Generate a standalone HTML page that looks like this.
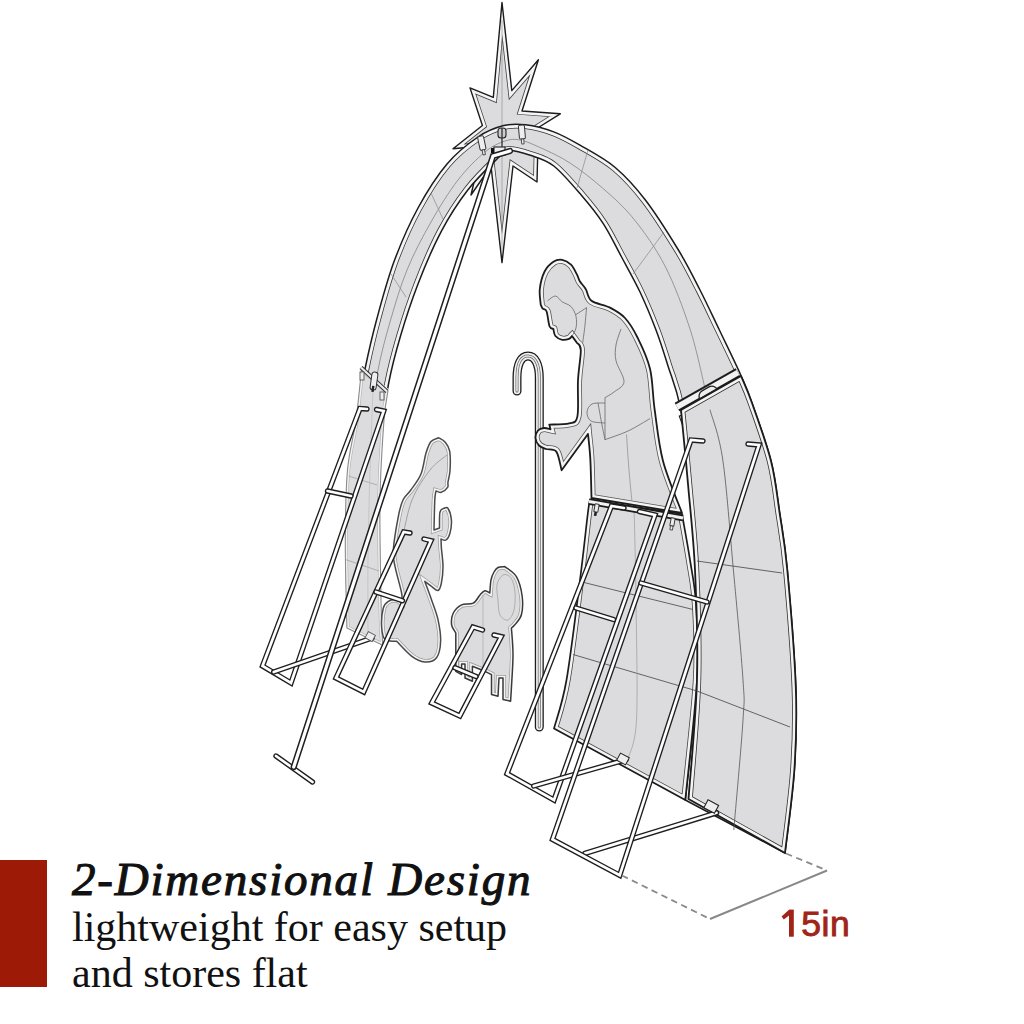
<!DOCTYPE html>
<html><head><meta charset="utf-8">
<style>
html,body{margin:0;padding:0;background:#fff;}
body{width:1024px;height:1024px;position:relative;overflow:hidden;}
svg{position:absolute;left:0;top:0;}
.bar{position:absolute;left:0;top:860px;width:46.7px;height:127px;background:#9d1a06;}
.t{position:absolute;left:72px;white-space:nowrap;font-family:"Liberation Serif",serif;color:#111;line-height:1;}
.h{top:856px;font-size:47px;font-style:italic;-webkit-text-stroke:1.1px #111;letter-spacing:1.8px;}
.l2{top:906px;font-size:42px;}
.l3{top:952px;font-size:42px;}
.dim{position:absolute;left:801.2px;top:907px;font-family:"Liberation Sans",sans-serif;font-size:35.5px;color:#a02418;-webkit-text-stroke:0.9px #a02418;line-height:1;letter-spacing:0.6px;}
</style></head><body>
<svg width="1024" height="1024" viewBox="0 0 1024 1024">
<defs><clipPath id="c1"><path d="M502,2.5 L511.8,90.6 L538.4,59.8 L522,111 L560.3,113.8 L538.4,127.5 L537,182 L513,166 L502,262.6 L491,166 L471,195 L482.4,146 L453,148.7 L482.4,125.5 L470,87.9 L493.3,97.4 Z"/></clipPath>
<clipPath id="c2"><path d="M346.9,628 C346.6,613.3 345.2,566.3 345.3,540.0 C345.4,513.7 345.7,490.0 347.5,470.0 C349.3,450.0 353.1,436.8 356.0,420.0 C358.9,403.2 361.5,385.8 365.0,369.0 C368.5,352.2 371.9,337.1 376.8,319.0 C381.7,300.9 387.5,279.1 394.4,260.6 C401.3,242.1 409.2,224.1 418.0,208.0 C426.8,191.9 437.0,175.8 447.0,164.0 C457.0,152.2 468.5,143.4 478.0,137.0 C487.5,130.6 495.8,127.6 503.8,125.6 C511.7,123.6 517.3,123.8 525.6,124.8 C533.9,125.8 544.7,128.5 553.8,131.9 C562.8,135.3 569.8,139.3 580.0,145.2 C590.2,151.1 604.3,158.3 615.2,167.5 C626.1,176.7 635.1,186.6 645.6,200.3 C656.1,214.1 669.3,235.1 678.4,250.0 C687.5,264.9 693.2,276.7 700.0,290.0 C706.8,303.3 712.6,315.9 719.4,330.0 C726.1,344.1 735.1,362.3 740.5,374.5 C745.9,386.7 746.9,388.6 752.0,403.0 C757.1,417.4 766.4,442.8 771.0,461.0 C775.6,479.2 776.8,493.8 779.5,512.0 C782.2,530.2 784.6,540.8 787.3,570.0 C790.0,599.2 794.5,654.0 795.8,687.0 C797.0,720.0 796.3,740.3 794.5,768.0 C792.7,795.7 786.6,838.8 785.0,853.0 L685.3,800 C687.4,780.0 694.5,718.3 697.8,680.0 C701.1,641.7 704.5,597.1 705.0,570.0 C705.5,542.9 704.6,544.2 700.6,517.5 C696.6,490.8 686.4,435.2 681.0,410.0 C675.6,384.8 672.2,379.3 668.0,366.0 C663.8,352.7 660.7,342.3 656.0,330.0 C651.3,317.7 645.8,304.3 640.0,292.0 C634.2,279.7 627.1,267.4 621.0,256.0 C614.9,244.6 609.9,233.8 603.4,223.8 C596.9,213.8 590.3,205.6 582.0,196.0 C573.7,186.4 562.4,172.8 553.8,166.0 C545.1,159.2 537.9,157.9 530.3,155.3 C522.7,152.7 513.9,150.0 508.4,150.6 C502.8,151.2 503.8,152.4 497.0,159.0 C490.2,165.6 476.9,178.2 467.6,190.3 C458.3,202.4 449.6,215.7 441.3,231.3 C433.0,246.9 424.8,266.4 418.0,284.0 C411.2,301.6 405.2,320.1 400.3,336.7 C395.4,353.3 391.3,369.6 388.6,383.5 C385.9,397.4 385.4,400.6 384.0,420.0 C382.6,439.4 380.5,468.5 380.0,500.0 C379.5,531.5 380.8,584.8 381.2,609.0 C381.7,633.2 382.5,639.2 382.8,645.3 Z"/></clipPath>
<clipPath id="c3"><path d="M361.5,369 C360.6,377.5 358.3,403.2 356.0,420.0 C353.7,436.8 349.3,450.0 347.5,470.0 C345.7,490.0 345.4,513.7 345.3,540.0 C345.2,566.3 346.6,613.3 346.9,628.0 L382.8,645.3 L382.8,645.3 C382.5,639.2 381.7,633.2 381.2,609.0 C380.8,584.8 379.5,531.5 380.0,500.0 C380.5,468.5 382.7,438.2 384.0,420.0 C385.3,401.8 387.3,395.8 388.0,391.0 Z"/></clipPath>
<clipPath id="c4"><path d="M590,500 C605.3,502.3 666.7,511.7 682.0,514.0 L682,514 C683.3,521.7 687.7,545.0 690.0,560.0 C692.3,575.0 694.8,584.0 696.0,604.0 C697.2,624.0 698.8,647.3 697.0,680.0 C695.2,712.7 687.2,780.0 685.3,800.0 L554,728.4 L554,728.4 C556.1,720.3 562.2,704.7 566.5,680.0 C570.8,655.3 576.4,608.0 580.0,580.0 C583.6,552.0 586.3,525.3 588.0,512.0 C589.7,498.7 589.7,502.0 590.0,500.0 Z"/></clipPath>
<clipPath id="c5"><path d="M681,410 C682.2,422.3 685.7,457.3 688.0,484.0 C690.3,510.7 693.5,537.3 695.0,570.0 C696.5,602.7 698.1,641.8 697.0,680.0 C695.9,718.2 689.9,779.2 688.5,799.0 L785,853 L785,853 C786.6,838.8 792.7,795.7 794.5,768.0 C796.3,740.3 797.0,720.0 795.8,687.0 C794.5,654.0 790.0,599.2 787.3,570.0 C784.6,540.8 782.2,530.2 779.5,512.0 C776.8,493.8 775.6,479.2 771.0,461.0 C766.4,442.8 757.0,417.2 752.0,403.0 C747.0,388.8 742.8,380.5 741.0,376.0 Z"/></clipPath>
<clipPath id="c6"><path d="M540.7,304.7 C540.6,302.1 539.1,294.5 539.8,289.0 C540.4,283.5 542.3,276.1 544.6,271.5 C546.9,266.9 550.5,263.6 553.4,261.7 C556.3,259.8 559.3,259.3 562.2,259.8 C565.1,260.3 568.5,262.2 571.0,264.6 C573.5,267.0 575.4,271.6 576.9,274.4 C578.4,277.2 578.3,278.8 579.8,281.2 C581.3,283.7 583.8,285.7 585.7,289.0 C587.7,292.3 587.5,297.7 591.5,300.8 C595.5,303.9 604.4,304.7 610.0,307.6 C615.6,310.5 620.4,313.0 625.0,318.0 C629.6,323.0 633.3,329.0 637.5,337.5 C641.7,346.0 647.1,356.7 650.0,368.8 C652.9,380.8 652.5,394.6 654.7,410.0 C656.9,425.4 658.5,443.8 663.0,461.0 C667.5,478.2 678.8,504.3 682.0,513.0 L591.5,498 L591.5,498 C591.3,491.4 590.9,469.3 590.3,458.6 C589.7,447.9 588.4,438.1 588.0,434.0 L561.6,470.3 L561.6,470.3 C560.7,467.2 558.9,455.2 556.3,451.6 C553.7,448.1 548.9,450.0 546.0,449.0 C543.1,448.0 540.8,447.3 539.0,445.5 C537.2,443.7 535.7,440.5 535.5,438.0 C535.3,435.5 536.6,432.2 538.0,430.5 C539.4,428.8 541.9,428.2 544.0,428.0 C546.1,427.8 549.4,429.1 550.5,429.3 L549.3,424.6 C552.6,424.4 564.5,424.8 569.2,423.4 C573.9,422.0 575.9,423.6 577.4,416.4 C578.9,409.2 577.4,391.1 578.0,380.0 C578.6,368.9 581.0,356.2 580.8,350.0 C580.6,343.8 577.5,344.0 576.9,342.8 L576.9,342.8 C576.1,341.7 572.8,337.1 572.0,336.0 L572,336 C571.5,336.5 570.6,338.3 569.0,338.9 C567.4,339.5 564.5,340.3 562.2,339.8 C559.9,339.3 556.9,337.8 555.4,336.0 C553.9,334.2 553.7,330.2 553.4,329.0 L553.4,329 C552.8,328.5 550.6,329.1 549.5,326.2 C548.4,323.3 547.7,314.4 546.6,311.5 C545.5,308.6 543.7,309.7 542.7,308.6 C541.7,307.5 541.0,305.4 540.7,304.7 Z"/></clipPath>
<clipPath id="c7"><path d="M438.7,437.8 C439.8,438.5 443.2,439.8 445.0,442.0 C446.8,444.2 448.9,446.4 449.7,451.2 C450.5,456.1 450.3,465.7 450.0,470.8 C449.7,475.9 448.4,479.2 448.0,482.0 C447.6,484.8 448.7,485.6 447.6,487.3 C446.5,489.0 443.1,491.7 441.2,492.3 C439.3,492.9 436.9,491.2 436.0,491.0 L436,491 C435.8,492.5 435.1,493.5 434.8,500.0 C434.5,506.5 434.1,525.0 434.0,530.0 L439.5,528 L439.5,528 C439.6,525.3 439.2,515.3 440.0,512.0 C440.8,508.7 442.7,508.9 444.0,508.3 C445.3,507.7 446.8,506.4 448.0,508.3 C449.2,510.2 451.1,515.9 451.4,520.0 C451.7,524.1 450.9,529.7 450.0,533.0 C449.1,536.3 447.5,539.0 446.0,540.0 C444.5,541.0 441.8,539.2 441.0,539.0 L441,539 C441.1,540.5 441.1,543.4 441.4,548.0 C441.7,552.6 443.0,560.6 443.0,566.4 C443.0,572.2 442.2,579.0 441.4,583.0 C440.6,587.0 439.6,589.9 438.0,590.5 C436.4,591.1 433.7,587.9 431.5,586.4 C429.3,584.9 425.9,582.2 424.8,581.4 L424.8,581.4 C425.9,584.5 429.3,593.3 431.5,599.7 C433.7,606.1 436.5,612.7 438.0,619.6 C439.5,626.5 440.9,634.8 440.6,641.2 C440.4,647.6 439.1,654.3 436.5,657.8 C433.9,661.3 429.0,662.3 424.8,662.0 C420.6,661.7 416.2,659.6 411.5,656.1 C406.8,652.6 399.1,643.7 396.6,641.2 L396.6,641.2 C394.7,640.9 387.5,642.0 385.0,639.5 C382.5,637.0 381.9,631.5 381.6,626.2 C381.3,621.0 382.2,612.1 383.3,608.0 C384.4,603.9 386.1,602.7 388.3,601.3 C390.5,599.9 394.4,599.4 396.6,599.7 C398.8,600.0 400.8,602.5 401.6,603.0 L401.6,603 C401.6,601.3 402.7,599.1 401.6,593.0 C400.5,586.9 396.4,573.6 395.0,566.4 C393.6,559.2 392.8,558.1 393.3,549.8 C393.9,541.5 396.7,524.9 398.3,516.6 C399.9,508.3 400.9,504.4 403.0,500.0 C405.1,495.6 407.8,494.3 410.8,490.0 C413.8,485.7 418.5,480.2 421.0,474.0 C423.5,467.8 424.3,458.4 426.0,453.0 C427.7,447.6 428.9,444.1 431.0,441.6 C433.1,439.1 437.4,438.4 438.7,437.8 Z"/></clipPath>
<clipPath id="c8"><path d="M504.8,566.6 C506.7,568.3 513.5,571.6 516.4,576.6 C519.3,581.6 521.4,590.1 522.2,596.5 C523.0,602.9 522.6,610.1 521.4,614.8 C520.2,619.5 516.4,622.6 514.8,624.8 C513.1,627.0 512.0,627.5 511.4,628.0 L511.4,628 C511.7,632.5 513.0,644.7 513.0,654.7 C513.0,664.7 511.8,680.2 511.4,688.0 C511.0,695.8 510.7,699.0 510.6,701.2 L503,699.5 L503,678 L499,678 L498,696.2 L491.5,694.5 L491.5,674.6 L484.9,671.3 L472.4,666.3 L472.4,681.25 L465,678 L465,664 L461.6,664 L461.6,674.6 L455.8,671.3 L455.8,633 L455.8,633 C455.1,631.6 452.0,628.1 451.6,624.8 C451.2,621.5 451.6,616.3 453.3,613.0 C455.0,609.7 458.3,606.4 461.6,604.8 C464.9,603.2 470.1,604.9 473.2,603.2 C476.3,601.6 478.1,597.0 480.0,594.9 C481.9,592.8 483.3,591.0 484.9,590.7 C486.5,590.4 489.0,592.6 489.8,593.0 L489.8,593 C490.0,590.8 490.3,583.5 491.0,580.0 C491.7,576.5 492.8,574.1 494.0,572.0 C495.2,569.9 496.2,568.4 498.0,567.5 C499.8,566.6 503.7,566.8 504.8,566.6 Z"/></clipPath></defs>
<path d="M502,2.5 L511.8,90.6 L538.4,59.8 L522,111 L560.3,113.8 L538.4,127.5 L537,182 L513,166 L502,262.6 L491,166 L471,195 L482.4,146 L453,148.7 L482.4,125.5 L470,87.9 L493.3,97.4 Z" fill="#dcdcde"/>
<g clip-path="url(#c1)"><path d="M502,2.5 L511.8,90.6 L538.4,59.8 L522,111 L560.3,113.8 L538.4,127.5 L537,182 L513,166 L502,262.6 L491,166 L471,195 L482.4,146 L453,148.7 L482.4,125.5 L470,87.9 L493.3,97.4 Z" fill="none" stroke="#444" stroke-width="8.0"/><path d="M502,2.5 L511.8,90.6 L538.4,59.8 L522,111 L560.3,113.8 L538.4,127.5 L537,182 L513,166 L502,262.6 L491,166 L471,195 L482.4,146 L453,148.7 L482.4,125.5 L470,87.9 L493.3,97.4 Z" fill="none" stroke="#f4f4f4" stroke-width="6.4"/></g>
<path d="M502,2.5 L511.8,90.6 L538.4,59.8 L522,111 L560.3,113.8 L538.4,127.5 L537,182 L513,166 L502,262.6 L491,166 L471,195 L482.4,146 L453,148.7 L482.4,125.5 L470,87.9 L493.3,97.4 Z" fill="none" stroke="#1c1c1c" stroke-width="1.4" stroke-linejoin="round"/>
<line x1="502" y1="20" x2="502" y2="250" stroke="#888" stroke-width="0.6"/>
<path d="M346.9,628 C346.6,613.3 345.2,566.3 345.3,540.0 C345.4,513.7 345.7,490.0 347.5,470.0 C349.3,450.0 353.1,436.8 356.0,420.0 C358.9,403.2 361.5,385.8 365.0,369.0 C368.5,352.2 371.9,337.1 376.8,319.0 C381.7,300.9 387.5,279.1 394.4,260.6 C401.3,242.1 409.2,224.1 418.0,208.0 C426.8,191.9 437.0,175.8 447.0,164.0 C457.0,152.2 468.5,143.4 478.0,137.0 C487.5,130.6 495.8,127.6 503.8,125.6 C511.7,123.6 517.3,123.8 525.6,124.8 C533.9,125.8 544.7,128.5 553.8,131.9 C562.8,135.3 569.8,139.3 580.0,145.2 C590.2,151.1 604.3,158.3 615.2,167.5 C626.1,176.7 635.1,186.6 645.6,200.3 C656.1,214.1 669.3,235.1 678.4,250.0 C687.5,264.9 693.2,276.7 700.0,290.0 C706.8,303.3 712.6,315.9 719.4,330.0 C726.1,344.1 735.1,362.3 740.5,374.5 C745.9,386.7 746.9,388.6 752.0,403.0 C757.1,417.4 766.4,442.8 771.0,461.0 C775.6,479.2 776.8,493.8 779.5,512.0 C782.2,530.2 784.6,540.8 787.3,570.0 C790.0,599.2 794.5,654.0 795.8,687.0 C797.0,720.0 796.3,740.3 794.5,768.0 C792.7,795.7 786.6,838.8 785.0,853.0 L685.3,800 C687.4,780.0 694.5,718.3 697.8,680.0 C701.1,641.7 704.5,597.1 705.0,570.0 C705.5,542.9 704.6,544.2 700.6,517.5 C696.6,490.8 686.4,435.2 681.0,410.0 C675.6,384.8 672.2,379.3 668.0,366.0 C663.8,352.7 660.7,342.3 656.0,330.0 C651.3,317.7 645.8,304.3 640.0,292.0 C634.2,279.7 627.1,267.4 621.0,256.0 C614.9,244.6 609.9,233.8 603.4,223.8 C596.9,213.8 590.3,205.6 582.0,196.0 C573.7,186.4 562.4,172.8 553.8,166.0 C545.1,159.2 537.9,157.9 530.3,155.3 C522.7,152.7 513.9,150.0 508.4,150.6 C502.8,151.2 503.8,152.4 497.0,159.0 C490.2,165.6 476.9,178.2 467.6,190.3 C458.3,202.4 449.6,215.7 441.3,231.3 C433.0,246.9 424.8,266.4 418.0,284.0 C411.2,301.6 405.2,320.1 400.3,336.7 C395.4,353.3 391.3,369.6 388.6,383.5 C385.9,397.4 385.4,400.6 384.0,420.0 C382.6,439.4 380.5,468.5 380.0,500.0 C379.5,531.5 380.8,584.8 381.2,609.0 C381.7,633.2 382.5,639.2 382.8,645.3 Z" fill="#dcdcde"/>
<g clip-path="url(#c2)"><path d="M346.9,628 C346.6,613.3 345.2,566.3 345.3,540.0 C345.4,513.7 345.7,490.0 347.5,470.0 C349.3,450.0 353.1,436.8 356.0,420.0 C358.9,403.2 361.5,385.8 365.0,369.0 C368.5,352.2 371.9,337.1 376.8,319.0 C381.7,300.9 387.5,279.1 394.4,260.6 C401.3,242.1 409.2,224.1 418.0,208.0 C426.8,191.9 437.0,175.8 447.0,164.0 C457.0,152.2 468.5,143.4 478.0,137.0 C487.5,130.6 495.8,127.6 503.8,125.6 C511.7,123.6 517.3,123.8 525.6,124.8 C533.9,125.8 544.7,128.5 553.8,131.9 C562.8,135.3 569.8,139.3 580.0,145.2 C590.2,151.1 604.3,158.3 615.2,167.5 C626.1,176.7 635.1,186.6 645.6,200.3 C656.1,214.1 669.3,235.1 678.4,250.0 C687.5,264.9 693.2,276.7 700.0,290.0 C706.8,303.3 712.6,315.9 719.4,330.0 C726.1,344.1 735.1,362.3 740.5,374.5 C745.9,386.7 746.9,388.6 752.0,403.0 C757.1,417.4 766.4,442.8 771.0,461.0 C775.6,479.2 776.8,493.8 779.5,512.0 C782.2,530.2 784.6,540.8 787.3,570.0 C790.0,599.2 794.5,654.0 795.8,687.0 C797.0,720.0 796.3,740.3 794.5,768.0 C792.7,795.7 786.6,838.8 785.0,853.0 L685.3,800 C687.4,780.0 694.5,718.3 697.8,680.0 C701.1,641.7 704.5,597.1 705.0,570.0 C705.5,542.9 704.6,544.2 700.6,517.5 C696.6,490.8 686.4,435.2 681.0,410.0 C675.6,384.8 672.2,379.3 668.0,366.0 C663.8,352.7 660.7,342.3 656.0,330.0 C651.3,317.7 645.8,304.3 640.0,292.0 C634.2,279.7 627.1,267.4 621.0,256.0 C614.9,244.6 609.9,233.8 603.4,223.8 C596.9,213.8 590.3,205.6 582.0,196.0 C573.7,186.4 562.4,172.8 553.8,166.0 C545.1,159.2 537.9,157.9 530.3,155.3 C522.7,152.7 513.9,150.0 508.4,150.6 C502.8,151.2 503.8,152.4 497.0,159.0 C490.2,165.6 476.9,178.2 467.6,190.3 C458.3,202.4 449.6,215.7 441.3,231.3 C433.0,246.9 424.8,266.4 418.0,284.0 C411.2,301.6 405.2,320.1 400.3,336.7 C395.4,353.3 391.3,369.6 388.6,383.5 C385.9,397.4 385.4,400.6 384.0,420.0 C382.6,439.4 380.5,468.5 380.0,500.0 C379.5,531.5 380.8,584.8 381.2,609.0 C381.7,633.2 382.5,639.2 382.8,645.3 Z" fill="none" stroke="#333" stroke-width="8.6"/><path d="M346.9,628 C346.6,613.3 345.2,566.3 345.3,540.0 C345.4,513.7 345.7,490.0 347.5,470.0 C349.3,450.0 353.1,436.8 356.0,420.0 C358.9,403.2 361.5,385.8 365.0,369.0 C368.5,352.2 371.9,337.1 376.8,319.0 C381.7,300.9 387.5,279.1 394.4,260.6 C401.3,242.1 409.2,224.1 418.0,208.0 C426.8,191.9 437.0,175.8 447.0,164.0 C457.0,152.2 468.5,143.4 478.0,137.0 C487.5,130.6 495.8,127.6 503.8,125.6 C511.7,123.6 517.3,123.8 525.6,124.8 C533.9,125.8 544.7,128.5 553.8,131.9 C562.8,135.3 569.8,139.3 580.0,145.2 C590.2,151.1 604.3,158.3 615.2,167.5 C626.1,176.7 635.1,186.6 645.6,200.3 C656.1,214.1 669.3,235.1 678.4,250.0 C687.5,264.9 693.2,276.7 700.0,290.0 C706.8,303.3 712.6,315.9 719.4,330.0 C726.1,344.1 735.1,362.3 740.5,374.5 C745.9,386.7 746.9,388.6 752.0,403.0 C757.1,417.4 766.4,442.8 771.0,461.0 C775.6,479.2 776.8,493.8 779.5,512.0 C782.2,530.2 784.6,540.8 787.3,570.0 C790.0,599.2 794.5,654.0 795.8,687.0 C797.0,720.0 796.3,740.3 794.5,768.0 C792.7,795.7 786.6,838.8 785.0,853.0 L685.3,800 C687.4,780.0 694.5,718.3 697.8,680.0 C701.1,641.7 704.5,597.1 705.0,570.0 C705.5,542.9 704.6,544.2 700.6,517.5 C696.6,490.8 686.4,435.2 681.0,410.0 C675.6,384.8 672.2,379.3 668.0,366.0 C663.8,352.7 660.7,342.3 656.0,330.0 C651.3,317.7 645.8,304.3 640.0,292.0 C634.2,279.7 627.1,267.4 621.0,256.0 C614.9,244.6 609.9,233.8 603.4,223.8 C596.9,213.8 590.3,205.6 582.0,196.0 C573.7,186.4 562.4,172.8 553.8,166.0 C545.1,159.2 537.9,157.9 530.3,155.3 C522.7,152.7 513.9,150.0 508.4,150.6 C502.8,151.2 503.8,152.4 497.0,159.0 C490.2,165.6 476.9,178.2 467.6,190.3 C458.3,202.4 449.6,215.7 441.3,231.3 C433.0,246.9 424.8,266.4 418.0,284.0 C411.2,301.6 405.2,320.1 400.3,336.7 C395.4,353.3 391.3,369.6 388.6,383.5 C385.9,397.4 385.4,400.6 384.0,420.0 C382.6,439.4 380.5,468.5 380.0,500.0 C379.5,531.5 380.8,584.8 381.2,609.0 C381.7,633.2 382.5,639.2 382.8,645.3 Z" fill="none" stroke="#f4f4f4" stroke-width="7.0"/></g>
<path d="M346.9,628 C346.6,613.3 345.2,566.3 345.3,540.0 C345.4,513.7 345.7,490.0 347.5,470.0 C349.3,450.0 353.1,436.8 356.0,420.0 C358.9,403.2 361.5,385.8 365.0,369.0 C368.5,352.2 371.9,337.1 376.8,319.0 C381.7,300.9 387.5,279.1 394.4,260.6 C401.3,242.1 409.2,224.1 418.0,208.0 C426.8,191.9 437.0,175.8 447.0,164.0 C457.0,152.2 468.5,143.4 478.0,137.0 C487.5,130.6 495.8,127.6 503.8,125.6 C511.7,123.6 517.3,123.8 525.6,124.8 C533.9,125.8 544.7,128.5 553.8,131.9 C562.8,135.3 569.8,139.3 580.0,145.2 C590.2,151.1 604.3,158.3 615.2,167.5 C626.1,176.7 635.1,186.6 645.6,200.3 C656.1,214.1 669.3,235.1 678.4,250.0 C687.5,264.9 693.2,276.7 700.0,290.0 C706.8,303.3 712.6,315.9 719.4,330.0 C726.1,344.1 735.1,362.3 740.5,374.5 C745.9,386.7 746.9,388.6 752.0,403.0 C757.1,417.4 766.4,442.8 771.0,461.0 C775.6,479.2 776.8,493.8 779.5,512.0 C782.2,530.2 784.6,540.8 787.3,570.0 C790.0,599.2 794.5,654.0 795.8,687.0 C797.0,720.0 796.3,740.3 794.5,768.0 C792.7,795.7 786.6,838.8 785.0,853.0 L685.3,800 C687.4,780.0 694.5,718.3 697.8,680.0 C701.1,641.7 704.5,597.1 705.0,570.0 C705.5,542.9 704.6,544.2 700.6,517.5 C696.6,490.8 686.4,435.2 681.0,410.0 C675.6,384.8 672.2,379.3 668.0,366.0 C663.8,352.7 660.7,342.3 656.0,330.0 C651.3,317.7 645.8,304.3 640.0,292.0 C634.2,279.7 627.1,267.4 621.0,256.0 C614.9,244.6 609.9,233.8 603.4,223.8 C596.9,213.8 590.3,205.6 582.0,196.0 C573.7,186.4 562.4,172.8 553.8,166.0 C545.1,159.2 537.9,157.9 530.3,155.3 C522.7,152.7 513.9,150.0 508.4,150.6 C502.8,151.2 503.8,152.4 497.0,159.0 C490.2,165.6 476.9,178.2 467.6,190.3 C458.3,202.4 449.6,215.7 441.3,231.3 C433.0,246.9 424.8,266.4 418.0,284.0 C411.2,301.6 405.2,320.1 400.3,336.7 C395.4,353.3 391.3,369.6 388.6,383.5 C385.9,397.4 385.4,400.6 384.0,420.0 C382.6,439.4 380.5,468.5 380.0,500.0 C379.5,531.5 380.8,584.8 381.2,609.0 C381.7,633.2 382.5,639.2 382.8,645.3 Z" fill="none" stroke="#1c1c1c" stroke-width="1.5" stroke-linejoin="round"/>
<path d="M372.0,630.0 C371.7,603.3 370.2,505.0 370.0,470.0 C369.8,435.0 369.7,436.7 371.0,420.0 C372.3,403.3 374.8,386.3 378.0,370.0 C381.2,353.7 385.2,338.7 390.0,322.0 C394.8,305.3 400.2,286.7 407.0,270.0 C413.8,253.3 422.5,237.0 431.0,222.0 C439.5,207.0 449.0,191.7 458.0,180.0 C467.0,168.3 477.2,158.5 485.0,152.0 C492.8,145.5 499.2,143.0 505.0,141.0 C510.8,139.0 514.2,138.9 520.0,140.0 C525.8,141.1 531.7,143.7 540.0,147.5 C548.3,151.3 559.6,156.2 570.0,163.0 C580.4,169.8 591.9,178.7 602.5,188.0 C613.1,197.3 623.3,206.0 633.8,219.0 C644.2,232.0 655.6,247.7 665.0,266.0 C674.4,284.3 683.2,308.2 690.0,329.0 C696.8,349.8 703.0,380.7 705.6,391.0" fill="none" stroke="#777" stroke-width="0.7"/>
<line x1="588" y1="150" x2="577" y2="188" stroke="#888" stroke-width="0.7"/>
<line x1="664" y1="232" x2="633" y2="274" stroke="#888" stroke-width="0.7"/>
<line x1="431" y1="193" x2="443" y2="219" stroke="#888" stroke-width="0.7"/>
<line x1="391" y1="274" x2="406" y2="297" stroke="#888" stroke-width="0.7"/>
<path d="M361.5,369 C360.6,377.5 358.3,403.2 356.0,420.0 C353.7,436.8 349.3,450.0 347.5,470.0 C345.7,490.0 345.4,513.7 345.3,540.0 C345.2,566.3 346.6,613.3 346.9,628.0 L382.8,645.3 L382.8,645.3 C382.5,639.2 381.7,633.2 381.2,609.0 C380.8,584.8 379.5,531.5 380.0,500.0 C380.5,468.5 382.7,438.2 384.0,420.0 C385.3,401.8 387.3,395.8 388.0,391.0 Z" fill="#fff" stroke="#fff" stroke-width="4"/>
<path d="M361.5,369 C360.6,377.5 358.3,403.2 356.0,420.0 C353.7,436.8 349.3,450.0 347.5,470.0 C345.7,490.0 345.4,513.7 345.3,540.0 C345.2,566.3 346.6,613.3 346.9,628.0 L382.8,645.3 L382.8,645.3 C382.5,639.2 381.7,633.2 381.2,609.0 C380.8,584.8 379.5,531.5 380.0,500.0 C380.5,468.5 382.7,438.2 384.0,420.0 C385.3,401.8 387.3,395.8 388.0,391.0 Z" fill="#dcdcde"/>
<g clip-path="url(#c3)"><path d="M361.5,369 C360.6,377.5 358.3,403.2 356.0,420.0 C353.7,436.8 349.3,450.0 347.5,470.0 C345.7,490.0 345.4,513.7 345.3,540.0 C345.2,566.3 346.6,613.3 346.9,628.0 L382.8,645.3 L382.8,645.3 C382.5,639.2 381.7,633.2 381.2,609.0 C380.8,584.8 379.5,531.5 380.0,500.0 C380.5,468.5 382.7,438.2 384.0,420.0 C385.3,401.8 387.3,395.8 388.0,391.0 Z" fill="none" stroke="#b0b0b0" stroke-width="5.2"/><path d="M361.5,369 C360.6,377.5 358.3,403.2 356.0,420.0 C353.7,436.8 349.3,450.0 347.5,470.0 C345.7,490.0 345.4,513.7 345.3,540.0 C345.2,566.3 346.6,613.3 346.9,628.0 L382.8,645.3 L382.8,645.3 C382.5,639.2 381.7,633.2 381.2,609.0 C380.8,584.8 379.5,531.5 380.0,500.0 C380.5,468.5 382.7,438.2 384.0,420.0 C385.3,401.8 387.3,395.8 388.0,391.0 Z" fill="none" stroke="#f4f4f4" stroke-width="4.0"/></g>
<path d="M361.5,369 C360.6,377.5 358.3,403.2 356.0,420.0 C353.7,436.8 349.3,450.0 347.5,470.0 C345.7,490.0 345.4,513.7 345.3,540.0 C345.2,566.3 346.6,613.3 346.9,628.0 L382.8,645.3 L382.8,645.3 C382.5,639.2 381.7,633.2 381.2,609.0 C380.8,584.8 379.5,531.5 380.0,500.0 C380.5,468.5 382.7,438.2 384.0,420.0 C385.3,401.8 387.3,395.8 388.0,391.0 Z" fill="none" stroke="#8c8c8c" stroke-width="1.1" stroke-linejoin="round"/>
<line x1="348.5" y1="476" x2="377" y2="485" stroke="#999" stroke-width="0.7"/>
<line x1="345.5" y1="559.5" x2="379" y2="571" stroke="#999" stroke-width="0.7"/>
<path d="M373.0,392.0 C372.5,405.0 370.8,442.0 370.0,470.0 C369.2,498.0 368.3,531.7 368.0,560.0 C367.7,588.3 368.0,626.7 368.0,640.0" fill="none" stroke="#bbb" stroke-width="0.7"/>
<line x1="361" y1="367.5" x2="387" y2="391.5" stroke="#333" stroke-width="4.4"/>
<line x1="361" y1="367.5" x2="387" y2="391.5" stroke="#eee" stroke-width="2.2"/>
<g transform="translate(374,381) rotate(8)"><rect x="-3" y="-9" width="6" height="18" rx="2.5" fill="#eee" stroke="#333" stroke-width="1"/><rect x="-1.2" y="5" width="2.4" height="6" fill="#222"/></g>
<rect x="360" y="372" width="4" height="8" fill="#eee" stroke="#555" stroke-width="0.9"/>
<rect x="380" y="392" width="4" height="8" fill="#eee" stroke="#555" stroke-width="0.9"/>
<line x1="677" y1="407" x2="738" y2="372.5" stroke="#1c1c1c" stroke-width="9.5"/>
<line x1="677" y1="407" x2="738" y2="372.5" stroke="#f2f2f2" stroke-width="5.5"/>
<g transform="translate(709,395) rotate(-30)"><rect x="-10" y="-7" width="20" height="14" rx="6" fill="#eee" stroke="#222" stroke-width="1.3"/><line x1="-10" y1="-1.5" x2="10" y2="-1.5" stroke="#222" stroke-width="1.2"/><line x1="-10" y1="1.5" x2="10" y2="1.5" stroke="#222" stroke-width="1.2"/><rect x="-3" y="7" width="6" height="8" fill="#bbb" stroke="#222" stroke-width="1"/></g>
<g transform="translate(734,388) rotate(-30)"><rect x="-5" y="-4" width="10" height="13" fill="#e8e8e8" stroke="#222" stroke-width="1.1"/><rect x="-2.5" y="9" width="5" height="4" fill="#eee" stroke="#222" stroke-width="1"/></g>
<g transform="translate(686,420) rotate(-20)"><rect x="-5" y="-6" width="10" height="13" fill="#e8e8e8" stroke="#222" stroke-width="1.1"/><rect x="-2.5" y="7" width="5" height="5" fill="#333" stroke="#222" stroke-width="1"/></g>
<g transform="translate(482,144) rotate(-12)"><rect x="-3" y="-8" width="6" height="14" rx="1.5" fill="#eee" stroke="#333" stroke-width="1"/><rect x="-1.2" y="6" width="2.4" height="5" fill="#eee" stroke="#333" stroke-width="0.8"/></g>
<g transform="translate(522,133) rotate(-5)"><rect x="-3" y="-8" width="6" height="14" rx="1.5" fill="#eee" stroke="#333" stroke-width="1"/><rect x="-1.2" y="6" width="2.4" height="5" fill="#eee" stroke="#333" stroke-width="0.8"/></g>
<g transform="translate(502,133)"><rect x="-4" y="-5" width="8" height="10" rx="3" fill="#ccc" stroke="#222" stroke-width="1.1"/><line x1="0" y1="-5" x2="0" y2="14" stroke="#222" stroke-width="1.2"/></g>
<rect x="494" y="147" width="11" height="8" fill="#eee" stroke="#222" stroke-width="1.1"/>
<rect x="491" y="148" width="3" height="5" fill="#111"/>
<path d="M590,500 C605.3,502.3 666.7,511.7 682.0,514.0 L682,514 C683.3,521.7 687.7,545.0 690.0,560.0 C692.3,575.0 694.8,584.0 696.0,604.0 C697.2,624.0 698.8,647.3 697.0,680.0 C695.2,712.7 687.2,780.0 685.3,800.0 L554,728.4 L554,728.4 C556.1,720.3 562.2,704.7 566.5,680.0 C570.8,655.3 576.4,608.0 580.0,580.0 C583.6,552.0 586.3,525.3 588.0,512.0 C589.7,498.7 589.7,502.0 590.0,500.0 Z" fill="#dcdcde"/>
<g clip-path="url(#c4)"><path d="M590,500 C605.3,502.3 666.7,511.7 682.0,514.0 L682,514 C683.3,521.7 687.7,545.0 690.0,560.0 C692.3,575.0 694.8,584.0 696.0,604.0 C697.2,624.0 698.8,647.3 697.0,680.0 C695.2,712.7 687.2,780.0 685.3,800.0 L554,728.4 L554,728.4 C556.1,720.3 562.2,704.7 566.5,680.0 C570.8,655.3 576.4,608.0 580.0,580.0 C583.6,552.0 586.3,525.3 588.0,512.0 C589.7,498.7 589.7,502.0 590.0,500.0 Z" fill="none" stroke="#444" stroke-width="8.2"/><path d="M590,500 C605.3,502.3 666.7,511.7 682.0,514.0 L682,514 C683.3,521.7 687.7,545.0 690.0,560.0 C692.3,575.0 694.8,584.0 696.0,604.0 C697.2,624.0 698.8,647.3 697.0,680.0 C695.2,712.7 687.2,780.0 685.3,800.0 L554,728.4 L554,728.4 C556.1,720.3 562.2,704.7 566.5,680.0 C570.8,655.3 576.4,608.0 580.0,580.0 C583.6,552.0 586.3,525.3 588.0,512.0 C589.7,498.7 589.7,502.0 590.0,500.0 Z" fill="none" stroke="#f4f4f4" stroke-width="6.6"/></g>
<path d="M590,500 C605.3,502.3 666.7,511.7 682.0,514.0 L682,514 C683.3,521.7 687.7,545.0 690.0,560.0 C692.3,575.0 694.8,584.0 696.0,604.0 C697.2,624.0 698.8,647.3 697.0,680.0 C695.2,712.7 687.2,780.0 685.3,800.0 L554,728.4 L554,728.4 C556.1,720.3 562.2,704.7 566.5,680.0 C570.8,655.3 576.4,608.0 580.0,580.0 C583.6,552.0 586.3,525.3 588.0,512.0 C589.7,498.7 589.7,502.0 590.0,500.0 Z" fill="none" stroke="#1c1c1c" stroke-width="1.7" stroke-linejoin="round"/>
<path d="M681,410 C682.2,422.3 685.7,457.3 688.0,484.0 C690.3,510.7 693.5,537.3 695.0,570.0 C696.5,602.7 698.1,641.8 697.0,680.0 C695.9,718.2 689.9,779.2 688.5,799.0 L785,853 L785,853 C786.6,838.8 792.7,795.7 794.5,768.0 C796.3,740.3 797.0,720.0 795.8,687.0 C794.5,654.0 790.0,599.2 787.3,570.0 C784.6,540.8 782.2,530.2 779.5,512.0 C776.8,493.8 775.6,479.2 771.0,461.0 C766.4,442.8 757.0,417.2 752.0,403.0 C747.0,388.8 742.8,380.5 741.0,376.0 Z" fill="#dcdcde"/>
<g clip-path="url(#c5)"><path d="M681,410 C682.2,422.3 685.7,457.3 688.0,484.0 C690.3,510.7 693.5,537.3 695.0,570.0 C696.5,602.7 698.1,641.8 697.0,680.0 C695.9,718.2 689.9,779.2 688.5,799.0 L785,853 L785,853 C786.6,838.8 792.7,795.7 794.5,768.0 C796.3,740.3 797.0,720.0 795.8,687.0 C794.5,654.0 790.0,599.2 787.3,570.0 C784.6,540.8 782.2,530.2 779.5,512.0 C776.8,493.8 775.6,479.2 771.0,461.0 C766.4,442.8 757.0,417.2 752.0,403.0 C747.0,388.8 742.8,380.5 741.0,376.0 Z" fill="none" stroke="#333" stroke-width="8.4"/><path d="M681,410 C682.2,422.3 685.7,457.3 688.0,484.0 C690.3,510.7 693.5,537.3 695.0,570.0 C696.5,602.7 698.1,641.8 697.0,680.0 C695.9,718.2 689.9,779.2 688.5,799.0 L785,853 L785,853 C786.6,838.8 792.7,795.7 794.5,768.0 C796.3,740.3 797.0,720.0 795.8,687.0 C794.5,654.0 790.0,599.2 787.3,570.0 C784.6,540.8 782.2,530.2 779.5,512.0 C776.8,493.8 775.6,479.2 771.0,461.0 C766.4,442.8 757.0,417.2 752.0,403.0 C747.0,388.8 742.8,380.5 741.0,376.0 Z" fill="none" stroke="#f4f4f4" stroke-width="6.8"/></g>
<path d="M681,410 C682.2,422.3 685.7,457.3 688.0,484.0 C690.3,510.7 693.5,537.3 695.0,570.0 C696.5,602.7 698.1,641.8 697.0,680.0 C695.9,718.2 689.9,779.2 688.5,799.0 L785,853 L785,853 C786.6,838.8 792.7,795.7 794.5,768.0 C796.3,740.3 797.0,720.0 795.8,687.0 C794.5,654.0 790.0,599.2 787.3,570.0 C784.6,540.8 782.2,530.2 779.5,512.0 C776.8,493.8 775.6,479.2 771.0,461.0 C766.4,442.8 757.0,417.2 752.0,403.0 C747.0,388.8 742.8,380.5 741.0,376.0 Z" fill="none" stroke="#1c1c1c" stroke-width="1.8" stroke-linejoin="round"/>
<line x1="582" y1="582" x2="693" y2="609.5" stroke="#444" stroke-width="0.8"/>
<line x1="573" y1="654.5" x2="697" y2="691" stroke="#444" stroke-width="0.8"/>
<line x1="697" y1="561" x2="782" y2="573" stroke="#444" stroke-width="0.8"/>
<line x1="697" y1="691" x2="790" y2="727" stroke="#444" stroke-width="0.8"/>
<path d="M634.0,503.0 C634.3,519.2 635.6,563.8 636.0,600.0 C636.4,636.2 637.9,693.3 636.5,720.0 C635.1,746.7 629.0,753.3 627.5,760.0" fill="none" stroke="#999" stroke-width="0.7"/>
<path d="M710.0,409.7 C712.1,418.1 718.9,433.3 722.8,460.0 C726.7,486.7 730.0,533.3 733.4,570.0 C736.8,606.7 741.4,655.0 743.0,680.0 C744.6,705.0 744.5,695.0 743.0,720.0 C741.5,745.0 735.3,811.7 733.8,830.0" fill="none" stroke="#555" stroke-width="0.8"/>
<path d="M539.3,727 L539.3,378 C539.3,364 535,356 528,356 C521,356 517,364 517,378 L517,391" fill="none" stroke="#1c1c1c" stroke-width="9" stroke-linecap="round"/>
<path d="M539.3,727 L539.3,378 C539.3,364 535,356 528,356 C521,356 517,364 517,378 L517,391" fill="none" stroke="#f2f2f2" stroke-width="6.4" stroke-linecap="round"/>
<path d="M539.3,727 L539.3,378 C539.3,364 535,356 528,356 C521,356 517,364 517,378 L517,391" fill="none" stroke="#666" stroke-width="3" stroke-linecap="round"/>
<path d="M539.3,727 L539.3,378 C539.3,364 535,356 528,356 C521,356 517,364 517,378 L517,391" fill="none" stroke="#e6e6e6" stroke-width="1.6" stroke-linecap="round"/>
<path d="M540.7,304.7 C540.6,302.1 539.1,294.5 539.8,289.0 C540.4,283.5 542.3,276.1 544.6,271.5 C546.9,266.9 550.5,263.6 553.4,261.7 C556.3,259.8 559.3,259.3 562.2,259.8 C565.1,260.3 568.5,262.2 571.0,264.6 C573.5,267.0 575.4,271.6 576.9,274.4 C578.4,277.2 578.3,278.8 579.8,281.2 C581.3,283.7 583.8,285.7 585.7,289.0 C587.7,292.3 587.5,297.7 591.5,300.8 C595.5,303.9 604.4,304.7 610.0,307.6 C615.6,310.5 620.4,313.0 625.0,318.0 C629.6,323.0 633.3,329.0 637.5,337.5 C641.7,346.0 647.1,356.7 650.0,368.8 C652.9,380.8 652.5,394.6 654.7,410.0 C656.9,425.4 658.5,443.8 663.0,461.0 C667.5,478.2 678.8,504.3 682.0,513.0 L591.5,498 L591.5,498 C591.3,491.4 590.9,469.3 590.3,458.6 C589.7,447.9 588.4,438.1 588.0,434.0 L561.6,470.3 L561.6,470.3 C560.7,467.2 558.9,455.2 556.3,451.6 C553.7,448.1 548.9,450.0 546.0,449.0 C543.1,448.0 540.8,447.3 539.0,445.5 C537.2,443.7 535.7,440.5 535.5,438.0 C535.3,435.5 536.6,432.2 538.0,430.5 C539.4,428.8 541.9,428.2 544.0,428.0 C546.1,427.8 549.4,429.1 550.5,429.3 L549.3,424.6 C552.6,424.4 564.5,424.8 569.2,423.4 C573.9,422.0 575.9,423.6 577.4,416.4 C578.9,409.2 577.4,391.1 578.0,380.0 C578.6,368.9 581.0,356.2 580.8,350.0 C580.6,343.8 577.5,344.0 576.9,342.8 L576.9,342.8 C576.1,341.7 572.8,337.1 572.0,336.0 L572,336 C571.5,336.5 570.6,338.3 569.0,338.9 C567.4,339.5 564.5,340.3 562.2,339.8 C559.9,339.3 556.9,337.8 555.4,336.0 C553.9,334.2 553.7,330.2 553.4,329.0 L553.4,329 C552.8,328.5 550.6,329.1 549.5,326.2 C548.4,323.3 547.7,314.4 546.6,311.5 C545.5,308.6 543.7,309.7 542.7,308.6 C541.7,307.5 541.0,305.4 540.7,304.7 Z" fill="#dcdcde"/>
<g clip-path="url(#c6)"><path d="M540.7,304.7 C540.6,302.1 539.1,294.5 539.8,289.0 C540.4,283.5 542.3,276.1 544.6,271.5 C546.9,266.9 550.5,263.6 553.4,261.7 C556.3,259.8 559.3,259.3 562.2,259.8 C565.1,260.3 568.5,262.2 571.0,264.6 C573.5,267.0 575.4,271.6 576.9,274.4 C578.4,277.2 578.3,278.8 579.8,281.2 C581.3,283.7 583.8,285.7 585.7,289.0 C587.7,292.3 587.5,297.7 591.5,300.8 C595.5,303.9 604.4,304.7 610.0,307.6 C615.6,310.5 620.4,313.0 625.0,318.0 C629.6,323.0 633.3,329.0 637.5,337.5 C641.7,346.0 647.1,356.7 650.0,368.8 C652.9,380.8 652.5,394.6 654.7,410.0 C656.9,425.4 658.5,443.8 663.0,461.0 C667.5,478.2 678.8,504.3 682.0,513.0 L591.5,498 L591.5,498 C591.3,491.4 590.9,469.3 590.3,458.6 C589.7,447.9 588.4,438.1 588.0,434.0 L561.6,470.3 L561.6,470.3 C560.7,467.2 558.9,455.2 556.3,451.6 C553.7,448.1 548.9,450.0 546.0,449.0 C543.1,448.0 540.8,447.3 539.0,445.5 C537.2,443.7 535.7,440.5 535.5,438.0 C535.3,435.5 536.6,432.2 538.0,430.5 C539.4,428.8 541.9,428.2 544.0,428.0 C546.1,427.8 549.4,429.1 550.5,429.3 L549.3,424.6 C552.6,424.4 564.5,424.8 569.2,423.4 C573.9,422.0 575.9,423.6 577.4,416.4 C578.9,409.2 577.4,391.1 578.0,380.0 C578.6,368.9 581.0,356.2 580.8,350.0 C580.6,343.8 577.5,344.0 576.9,342.8 L576.9,342.8 C576.1,341.7 572.8,337.1 572.0,336.0 L572,336 C571.5,336.5 570.6,338.3 569.0,338.9 C567.4,339.5 564.5,340.3 562.2,339.8 C559.9,339.3 556.9,337.8 555.4,336.0 C553.9,334.2 553.7,330.2 553.4,329.0 L553.4,329 C552.8,328.5 550.6,329.1 549.5,326.2 C548.4,323.3 547.7,314.4 546.6,311.5 C545.5,308.6 543.7,309.7 542.7,308.6 C541.7,307.5 541.0,305.4 540.7,304.7 Z" fill="none" stroke="#555" stroke-width="8.2"/><path d="M540.7,304.7 C540.6,302.1 539.1,294.5 539.8,289.0 C540.4,283.5 542.3,276.1 544.6,271.5 C546.9,266.9 550.5,263.6 553.4,261.7 C556.3,259.8 559.3,259.3 562.2,259.8 C565.1,260.3 568.5,262.2 571.0,264.6 C573.5,267.0 575.4,271.6 576.9,274.4 C578.4,277.2 578.3,278.8 579.8,281.2 C581.3,283.7 583.8,285.7 585.7,289.0 C587.7,292.3 587.5,297.7 591.5,300.8 C595.5,303.9 604.4,304.7 610.0,307.6 C615.6,310.5 620.4,313.0 625.0,318.0 C629.6,323.0 633.3,329.0 637.5,337.5 C641.7,346.0 647.1,356.7 650.0,368.8 C652.9,380.8 652.5,394.6 654.7,410.0 C656.9,425.4 658.5,443.8 663.0,461.0 C667.5,478.2 678.8,504.3 682.0,513.0 L591.5,498 L591.5,498 C591.3,491.4 590.9,469.3 590.3,458.6 C589.7,447.9 588.4,438.1 588.0,434.0 L561.6,470.3 L561.6,470.3 C560.7,467.2 558.9,455.2 556.3,451.6 C553.7,448.1 548.9,450.0 546.0,449.0 C543.1,448.0 540.8,447.3 539.0,445.5 C537.2,443.7 535.7,440.5 535.5,438.0 C535.3,435.5 536.6,432.2 538.0,430.5 C539.4,428.8 541.9,428.2 544.0,428.0 C546.1,427.8 549.4,429.1 550.5,429.3 L549.3,424.6 C552.6,424.4 564.5,424.8 569.2,423.4 C573.9,422.0 575.9,423.6 577.4,416.4 C578.9,409.2 577.4,391.1 578.0,380.0 C578.6,368.9 581.0,356.2 580.8,350.0 C580.6,343.8 577.5,344.0 576.9,342.8 L576.9,342.8 C576.1,341.7 572.8,337.1 572.0,336.0 L572,336 C571.5,336.5 570.6,338.3 569.0,338.9 C567.4,339.5 564.5,340.3 562.2,339.8 C559.9,339.3 556.9,337.8 555.4,336.0 C553.9,334.2 553.7,330.2 553.4,329.0 L553.4,329 C552.8,328.5 550.6,329.1 549.5,326.2 C548.4,323.3 547.7,314.4 546.6,311.5 C545.5,308.6 543.7,309.7 542.7,308.6 C541.7,307.5 541.0,305.4 540.7,304.7 Z" fill="none" stroke="#f4f4f4" stroke-width="6.6"/></g>
<path d="M540.7,304.7 C540.6,302.1 539.1,294.5 539.8,289.0 C540.4,283.5 542.3,276.1 544.6,271.5 C546.9,266.9 550.5,263.6 553.4,261.7 C556.3,259.8 559.3,259.3 562.2,259.8 C565.1,260.3 568.5,262.2 571.0,264.6 C573.5,267.0 575.4,271.6 576.9,274.4 C578.4,277.2 578.3,278.8 579.8,281.2 C581.3,283.7 583.8,285.7 585.7,289.0 C587.7,292.3 587.5,297.7 591.5,300.8 C595.5,303.9 604.4,304.7 610.0,307.6 C615.6,310.5 620.4,313.0 625.0,318.0 C629.6,323.0 633.3,329.0 637.5,337.5 C641.7,346.0 647.1,356.7 650.0,368.8 C652.9,380.8 652.5,394.6 654.7,410.0 C656.9,425.4 658.5,443.8 663.0,461.0 C667.5,478.2 678.8,504.3 682.0,513.0 L591.5,498 L591.5,498 C591.3,491.4 590.9,469.3 590.3,458.6 C589.7,447.9 588.4,438.1 588.0,434.0 L561.6,470.3 L561.6,470.3 C560.7,467.2 558.9,455.2 556.3,451.6 C553.7,448.1 548.9,450.0 546.0,449.0 C543.1,448.0 540.8,447.3 539.0,445.5 C537.2,443.7 535.7,440.5 535.5,438.0 C535.3,435.5 536.6,432.2 538.0,430.5 C539.4,428.8 541.9,428.2 544.0,428.0 C546.1,427.8 549.4,429.1 550.5,429.3 L549.3,424.6 C552.6,424.4 564.5,424.8 569.2,423.4 C573.9,422.0 575.9,423.6 577.4,416.4 C578.9,409.2 577.4,391.1 578.0,380.0 C578.6,368.9 581.0,356.2 580.8,350.0 C580.6,343.8 577.5,344.0 576.9,342.8 L576.9,342.8 C576.1,341.7 572.8,337.1 572.0,336.0 L572,336 C571.5,336.5 570.6,338.3 569.0,338.9 C567.4,339.5 564.5,340.3 562.2,339.8 C559.9,339.3 556.9,337.8 555.4,336.0 C553.9,334.2 553.7,330.2 553.4,329.0 L553.4,329 C552.8,328.5 550.6,329.1 549.5,326.2 C548.4,323.3 547.7,314.4 546.6,311.5 C545.5,308.6 543.7,309.7 542.7,308.6 C541.7,307.5 541.0,305.4 540.7,304.7 Z" fill="none" stroke="#1c1c1c" stroke-width="1.8" stroke-linejoin="round"/>
<line x1="589" y1="501.5" x2="683" y2="518" stroke="#1c1c1c" stroke-width="6.5"/>
<line x1="589" y1="501.5" x2="683" y2="518" stroke="#f2f2f2" stroke-width="3"/>
<g transform="translate(596.5,508) rotate(10)"><rect x="-2" y="-4" width="4" height="8" fill="#eee" stroke="#333" stroke-width="0.9"/><rect x="-1.3" y="4" width="2.6" height="4" fill="#222"/></g>
<g transform="translate(672.5,522) rotate(10)"><rect x="-2" y="-4" width="4" height="8" fill="#eee" stroke="#333" stroke-width="0.9"/><rect x="-1.3" y="4" width="2.6" height="4" fill="#eee" stroke="#333" stroke-width="0.8"/></g>
<path d="M621.0,329.0 C620.2,331.7 616.8,339.7 616.0,345.0 C615.2,350.3 614.7,354.6 616.0,360.7 C617.3,366.8 624.3,376.5 624.0,381.8 C623.7,387.0 617.2,389.4 614.0,392.0 C610.8,394.6 606.5,396.7 605.0,397.6" fill="none" stroke="#666" stroke-width="0.8"/>
<path d="M605.0,397.6 C605.0,401.3 605.0,413.0 605.0,420.0 C605.0,427.0 605.0,436.4 605.0,439.7" fill="none" stroke="#666" stroke-width="0.8"/>
<path d="M605.0,439.7 C608.8,438.2 620.5,434.5 628.0,431.0 C635.5,427.5 646.3,420.7 650.0,418.6" fill="none" stroke="#666" stroke-width="0.8"/>
<path d="M598.0,403.0 C598.7,406.7 600.8,418.9 602.0,425.0 C603.2,431.1 604.5,437.2 605.0,439.7" fill="none" stroke="#666" stroke-width="0.8"/>
<path d="M605.0,403.0 C602.8,403.2 595.0,402.5 592.0,404.0 C589.0,405.5 587.2,409.2 587.0,412.0 C586.8,414.8 588.0,419.2 591.0,421.0 C594.0,422.8 602.7,422.7 605.0,423.0" fill="none" stroke="#666" stroke-width="0.8"/>
<path d="M626.5,434.5 C626.9,440.4 628.1,459.1 629.0,470.0 C629.9,480.9 631.3,495.0 631.8,500.0" fill="none" stroke="#888" stroke-width="0.7"/>
<path d="M547.6,300.8 C548.9,300.0 553.0,295.8 555.4,296.0 C557.8,296.2 559.6,300.0 562.2,301.8 C564.8,303.6 568.7,304.2 571.0,306.6 C573.3,309.0 575.2,312.8 576.0,316.4 C576.8,320.0 576.7,324.7 576.0,328.0 C575.3,331.3 572.7,334.7 572.0,336.0" fill="none" stroke="#666" stroke-width="0.8"/>
<path d="M576.0,314.5 C577.8,313.4 584.8,308.8 586.6,307.6" fill="none" stroke="#666" stroke-width="0.8"/>
<path d="M586.6,307.6 C586.3,310.5 585.6,319.1 585.0,325.0 C584.4,330.9 583.1,339.8 582.7,342.8" fill="none" stroke="#666" stroke-width="0.8"/>
<path d="M438.7,437.8 C439.8,438.5 443.2,439.8 445.0,442.0 C446.8,444.2 448.9,446.4 449.7,451.2 C450.5,456.1 450.3,465.7 450.0,470.8 C449.7,475.9 448.4,479.2 448.0,482.0 C447.6,484.8 448.7,485.6 447.6,487.3 C446.5,489.0 443.1,491.7 441.2,492.3 C439.3,492.9 436.9,491.2 436.0,491.0 L436,491 C435.8,492.5 435.1,493.5 434.8,500.0 C434.5,506.5 434.1,525.0 434.0,530.0 L439.5,528 L439.5,528 C439.6,525.3 439.2,515.3 440.0,512.0 C440.8,508.7 442.7,508.9 444.0,508.3 C445.3,507.7 446.8,506.4 448.0,508.3 C449.2,510.2 451.1,515.9 451.4,520.0 C451.7,524.1 450.9,529.7 450.0,533.0 C449.1,536.3 447.5,539.0 446.0,540.0 C444.5,541.0 441.8,539.2 441.0,539.0 L441,539 C441.1,540.5 441.1,543.4 441.4,548.0 C441.7,552.6 443.0,560.6 443.0,566.4 C443.0,572.2 442.2,579.0 441.4,583.0 C440.6,587.0 439.6,589.9 438.0,590.5 C436.4,591.1 433.7,587.9 431.5,586.4 C429.3,584.9 425.9,582.2 424.8,581.4 L424.8,581.4 C425.9,584.5 429.3,593.3 431.5,599.7 C433.7,606.1 436.5,612.7 438.0,619.6 C439.5,626.5 440.9,634.8 440.6,641.2 C440.4,647.6 439.1,654.3 436.5,657.8 C433.9,661.3 429.0,662.3 424.8,662.0 C420.6,661.7 416.2,659.6 411.5,656.1 C406.8,652.6 399.1,643.7 396.6,641.2 L396.6,641.2 C394.7,640.9 387.5,642.0 385.0,639.5 C382.5,637.0 381.9,631.5 381.6,626.2 C381.3,621.0 382.2,612.1 383.3,608.0 C384.4,603.9 386.1,602.7 388.3,601.3 C390.5,599.9 394.4,599.4 396.6,599.7 C398.8,600.0 400.8,602.5 401.6,603.0 L401.6,603 C401.6,601.3 402.7,599.1 401.6,593.0 C400.5,586.9 396.4,573.6 395.0,566.4 C393.6,559.2 392.8,558.1 393.3,549.8 C393.9,541.5 396.7,524.9 398.3,516.6 C399.9,508.3 400.9,504.4 403.0,500.0 C405.1,495.6 407.8,494.3 410.8,490.0 C413.8,485.7 418.5,480.2 421.0,474.0 C423.5,467.8 424.3,458.4 426.0,453.0 C427.7,447.6 428.9,444.1 431.0,441.6 C433.1,439.1 437.4,438.4 438.7,437.8 Z" fill="#dcdcde"/>
<g clip-path="url(#c7)"><path d="M438.7,437.8 C439.8,438.5 443.2,439.8 445.0,442.0 C446.8,444.2 448.9,446.4 449.7,451.2 C450.5,456.1 450.3,465.7 450.0,470.8 C449.7,475.9 448.4,479.2 448.0,482.0 C447.6,484.8 448.7,485.6 447.6,487.3 C446.5,489.0 443.1,491.7 441.2,492.3 C439.3,492.9 436.9,491.2 436.0,491.0 L436,491 C435.8,492.5 435.1,493.5 434.8,500.0 C434.5,506.5 434.1,525.0 434.0,530.0 L439.5,528 L439.5,528 C439.6,525.3 439.2,515.3 440.0,512.0 C440.8,508.7 442.7,508.9 444.0,508.3 C445.3,507.7 446.8,506.4 448.0,508.3 C449.2,510.2 451.1,515.9 451.4,520.0 C451.7,524.1 450.9,529.7 450.0,533.0 C449.1,536.3 447.5,539.0 446.0,540.0 C444.5,541.0 441.8,539.2 441.0,539.0 L441,539 C441.1,540.5 441.1,543.4 441.4,548.0 C441.7,552.6 443.0,560.6 443.0,566.4 C443.0,572.2 442.2,579.0 441.4,583.0 C440.6,587.0 439.6,589.9 438.0,590.5 C436.4,591.1 433.7,587.9 431.5,586.4 C429.3,584.9 425.9,582.2 424.8,581.4 L424.8,581.4 C425.9,584.5 429.3,593.3 431.5,599.7 C433.7,606.1 436.5,612.7 438.0,619.6 C439.5,626.5 440.9,634.8 440.6,641.2 C440.4,647.6 439.1,654.3 436.5,657.8 C433.9,661.3 429.0,662.3 424.8,662.0 C420.6,661.7 416.2,659.6 411.5,656.1 C406.8,652.6 399.1,643.7 396.6,641.2 L396.6,641.2 C394.7,640.9 387.5,642.0 385.0,639.5 C382.5,637.0 381.9,631.5 381.6,626.2 C381.3,621.0 382.2,612.1 383.3,608.0 C384.4,603.9 386.1,602.7 388.3,601.3 C390.5,599.9 394.4,599.4 396.6,599.7 C398.8,600.0 400.8,602.5 401.6,603.0 L401.6,603 C401.6,601.3 402.7,599.1 401.6,593.0 C400.5,586.9 396.4,573.6 395.0,566.4 C393.6,559.2 392.8,558.1 393.3,549.8 C393.9,541.5 396.7,524.9 398.3,516.6 C399.9,508.3 400.9,504.4 403.0,500.0 C405.1,495.6 407.8,494.3 410.8,490.0 C413.8,485.7 418.5,480.2 421.0,474.0 C423.5,467.8 424.3,458.4 426.0,453.0 C427.7,447.6 428.9,444.1 431.0,441.6 C433.1,439.1 437.4,438.4 438.7,437.8 Z" fill="none" stroke="#999" stroke-width="6.0"/><path d="M438.7,437.8 C439.8,438.5 443.2,439.8 445.0,442.0 C446.8,444.2 448.9,446.4 449.7,451.2 C450.5,456.1 450.3,465.7 450.0,470.8 C449.7,475.9 448.4,479.2 448.0,482.0 C447.6,484.8 448.7,485.6 447.6,487.3 C446.5,489.0 443.1,491.7 441.2,492.3 C439.3,492.9 436.9,491.2 436.0,491.0 L436,491 C435.8,492.5 435.1,493.5 434.8,500.0 C434.5,506.5 434.1,525.0 434.0,530.0 L439.5,528 L439.5,528 C439.6,525.3 439.2,515.3 440.0,512.0 C440.8,508.7 442.7,508.9 444.0,508.3 C445.3,507.7 446.8,506.4 448.0,508.3 C449.2,510.2 451.1,515.9 451.4,520.0 C451.7,524.1 450.9,529.7 450.0,533.0 C449.1,536.3 447.5,539.0 446.0,540.0 C444.5,541.0 441.8,539.2 441.0,539.0 L441,539 C441.1,540.5 441.1,543.4 441.4,548.0 C441.7,552.6 443.0,560.6 443.0,566.4 C443.0,572.2 442.2,579.0 441.4,583.0 C440.6,587.0 439.6,589.9 438.0,590.5 C436.4,591.1 433.7,587.9 431.5,586.4 C429.3,584.9 425.9,582.2 424.8,581.4 L424.8,581.4 C425.9,584.5 429.3,593.3 431.5,599.7 C433.7,606.1 436.5,612.7 438.0,619.6 C439.5,626.5 440.9,634.8 440.6,641.2 C440.4,647.6 439.1,654.3 436.5,657.8 C433.9,661.3 429.0,662.3 424.8,662.0 C420.6,661.7 416.2,659.6 411.5,656.1 C406.8,652.6 399.1,643.7 396.6,641.2 L396.6,641.2 C394.7,640.9 387.5,642.0 385.0,639.5 C382.5,637.0 381.9,631.5 381.6,626.2 C381.3,621.0 382.2,612.1 383.3,608.0 C384.4,603.9 386.1,602.7 388.3,601.3 C390.5,599.9 394.4,599.4 396.6,599.7 C398.8,600.0 400.8,602.5 401.6,603.0 L401.6,603 C401.6,601.3 402.7,599.1 401.6,593.0 C400.5,586.9 396.4,573.6 395.0,566.4 C393.6,559.2 392.8,558.1 393.3,549.8 C393.9,541.5 396.7,524.9 398.3,516.6 C399.9,508.3 400.9,504.4 403.0,500.0 C405.1,495.6 407.8,494.3 410.8,490.0 C413.8,485.7 418.5,480.2 421.0,474.0 C423.5,467.8 424.3,458.4 426.0,453.0 C427.7,447.6 428.9,444.1 431.0,441.6 C433.1,439.1 437.4,438.4 438.7,437.8 Z" fill="none" stroke="#f4f4f4" stroke-width="4.6"/></g>
<path d="M438.7,437.8 C439.8,438.5 443.2,439.8 445.0,442.0 C446.8,444.2 448.9,446.4 449.7,451.2 C450.5,456.1 450.3,465.7 450.0,470.8 C449.7,475.9 448.4,479.2 448.0,482.0 C447.6,484.8 448.7,485.6 447.6,487.3 C446.5,489.0 443.1,491.7 441.2,492.3 C439.3,492.9 436.9,491.2 436.0,491.0 L436,491 C435.8,492.5 435.1,493.5 434.8,500.0 C434.5,506.5 434.1,525.0 434.0,530.0 L439.5,528 L439.5,528 C439.6,525.3 439.2,515.3 440.0,512.0 C440.8,508.7 442.7,508.9 444.0,508.3 C445.3,507.7 446.8,506.4 448.0,508.3 C449.2,510.2 451.1,515.9 451.4,520.0 C451.7,524.1 450.9,529.7 450.0,533.0 C449.1,536.3 447.5,539.0 446.0,540.0 C444.5,541.0 441.8,539.2 441.0,539.0 L441,539 C441.1,540.5 441.1,543.4 441.4,548.0 C441.7,552.6 443.0,560.6 443.0,566.4 C443.0,572.2 442.2,579.0 441.4,583.0 C440.6,587.0 439.6,589.9 438.0,590.5 C436.4,591.1 433.7,587.9 431.5,586.4 C429.3,584.9 425.9,582.2 424.8,581.4 L424.8,581.4 C425.9,584.5 429.3,593.3 431.5,599.7 C433.7,606.1 436.5,612.7 438.0,619.6 C439.5,626.5 440.9,634.8 440.6,641.2 C440.4,647.6 439.1,654.3 436.5,657.8 C433.9,661.3 429.0,662.3 424.8,662.0 C420.6,661.7 416.2,659.6 411.5,656.1 C406.8,652.6 399.1,643.7 396.6,641.2 L396.6,641.2 C394.7,640.9 387.5,642.0 385.0,639.5 C382.5,637.0 381.9,631.5 381.6,626.2 C381.3,621.0 382.2,612.1 383.3,608.0 C384.4,603.9 386.1,602.7 388.3,601.3 C390.5,599.9 394.4,599.4 396.6,599.7 C398.8,600.0 400.8,602.5 401.6,603.0 L401.6,603 C401.6,601.3 402.7,599.1 401.6,593.0 C400.5,586.9 396.4,573.6 395.0,566.4 C393.6,559.2 392.8,558.1 393.3,549.8 C393.9,541.5 396.7,524.9 398.3,516.6 C399.9,508.3 400.9,504.4 403.0,500.0 C405.1,495.6 407.8,494.3 410.8,490.0 C413.8,485.7 418.5,480.2 421.0,474.0 C423.5,467.8 424.3,458.4 426.0,453.0 C427.7,447.6 428.9,444.1 431.0,441.6 C433.1,439.1 437.4,438.4 438.7,437.8 Z" fill="none" stroke="#4a4a4a" stroke-width="1.5" stroke-linejoin="round"/>
<path d="M447.0,455.0 C444.2,457.5 435.8,462.5 430.0,470.0 C424.2,477.5 416.7,488.3 412.0,500.0 C407.3,511.7 403.7,533.3 402.0,540.0" fill="none" stroke="#888" stroke-width="0.7"/>
<path d="M504.8,566.6 C506.7,568.3 513.5,571.6 516.4,576.6 C519.3,581.6 521.4,590.1 522.2,596.5 C523.0,602.9 522.6,610.1 521.4,614.8 C520.2,619.5 516.4,622.6 514.8,624.8 C513.1,627.0 512.0,627.5 511.4,628.0 L511.4,628 C511.7,632.5 513.0,644.7 513.0,654.7 C513.0,664.7 511.8,680.2 511.4,688.0 C511.0,695.8 510.7,699.0 510.6,701.2 L503,699.5 L503,678 L499,678 L498,696.2 L491.5,694.5 L491.5,674.6 L484.9,671.3 L472.4,666.3 L472.4,681.25 L465,678 L465,664 L461.6,664 L461.6,674.6 L455.8,671.3 L455.8,633 L455.8,633 C455.1,631.6 452.0,628.1 451.6,624.8 C451.2,621.5 451.6,616.3 453.3,613.0 C455.0,609.7 458.3,606.4 461.6,604.8 C464.9,603.2 470.1,604.9 473.2,603.2 C476.3,601.6 478.1,597.0 480.0,594.9 C481.9,592.8 483.3,591.0 484.9,590.7 C486.5,590.4 489.0,592.6 489.8,593.0 L489.8,593 C490.0,590.8 490.3,583.5 491.0,580.0 C491.7,576.5 492.8,574.1 494.0,572.0 C495.2,569.9 496.2,568.4 498.0,567.5 C499.8,566.6 503.7,566.8 504.8,566.6 Z" fill="#dcdcde"/>
<g clip-path="url(#c8)"><path d="M504.8,566.6 C506.7,568.3 513.5,571.6 516.4,576.6 C519.3,581.6 521.4,590.1 522.2,596.5 C523.0,602.9 522.6,610.1 521.4,614.8 C520.2,619.5 516.4,622.6 514.8,624.8 C513.1,627.0 512.0,627.5 511.4,628.0 L511.4,628 C511.7,632.5 513.0,644.7 513.0,654.7 C513.0,664.7 511.8,680.2 511.4,688.0 C511.0,695.8 510.7,699.0 510.6,701.2 L503,699.5 L503,678 L499,678 L498,696.2 L491.5,694.5 L491.5,674.6 L484.9,671.3 L472.4,666.3 L472.4,681.25 L465,678 L465,664 L461.6,664 L461.6,674.6 L455.8,671.3 L455.8,633 L455.8,633 C455.1,631.6 452.0,628.1 451.6,624.8 C451.2,621.5 451.6,616.3 453.3,613.0 C455.0,609.7 458.3,606.4 461.6,604.8 C464.9,603.2 470.1,604.9 473.2,603.2 C476.3,601.6 478.1,597.0 480.0,594.9 C481.9,592.8 483.3,591.0 484.9,590.7 C486.5,590.4 489.0,592.6 489.8,593.0 L489.8,593 C490.0,590.8 490.3,583.5 491.0,580.0 C491.7,576.5 492.8,574.1 494.0,572.0 C495.2,569.9 496.2,568.4 498.0,567.5 C499.8,566.6 503.7,566.8 504.8,566.6 Z" fill="none" stroke="#999" stroke-width="6.0"/><path d="M504.8,566.6 C506.7,568.3 513.5,571.6 516.4,576.6 C519.3,581.6 521.4,590.1 522.2,596.5 C523.0,602.9 522.6,610.1 521.4,614.8 C520.2,619.5 516.4,622.6 514.8,624.8 C513.1,627.0 512.0,627.5 511.4,628.0 L511.4,628 C511.7,632.5 513.0,644.7 513.0,654.7 C513.0,664.7 511.8,680.2 511.4,688.0 C511.0,695.8 510.7,699.0 510.6,701.2 L503,699.5 L503,678 L499,678 L498,696.2 L491.5,694.5 L491.5,674.6 L484.9,671.3 L472.4,666.3 L472.4,681.25 L465,678 L465,664 L461.6,664 L461.6,674.6 L455.8,671.3 L455.8,633 L455.8,633 C455.1,631.6 452.0,628.1 451.6,624.8 C451.2,621.5 451.6,616.3 453.3,613.0 C455.0,609.7 458.3,606.4 461.6,604.8 C464.9,603.2 470.1,604.9 473.2,603.2 C476.3,601.6 478.1,597.0 480.0,594.9 C481.9,592.8 483.3,591.0 484.9,590.7 C486.5,590.4 489.0,592.6 489.8,593.0 L489.8,593 C490.0,590.8 490.3,583.5 491.0,580.0 C491.7,576.5 492.8,574.1 494.0,572.0 C495.2,569.9 496.2,568.4 498.0,567.5 C499.8,566.6 503.7,566.8 504.8,566.6 Z" fill="none" stroke="#f4f4f4" stroke-width="4.6"/></g>
<path d="M504.8,566.6 C506.7,568.3 513.5,571.6 516.4,576.6 C519.3,581.6 521.4,590.1 522.2,596.5 C523.0,602.9 522.6,610.1 521.4,614.8 C520.2,619.5 516.4,622.6 514.8,624.8 C513.1,627.0 512.0,627.5 511.4,628.0 L511.4,628 C511.7,632.5 513.0,644.7 513.0,654.7 C513.0,664.7 511.8,680.2 511.4,688.0 C511.0,695.8 510.7,699.0 510.6,701.2 L503,699.5 L503,678 L499,678 L498,696.2 L491.5,694.5 L491.5,674.6 L484.9,671.3 L472.4,666.3 L472.4,681.25 L465,678 L465,664 L461.6,664 L461.6,674.6 L455.8,671.3 L455.8,633 L455.8,633 C455.1,631.6 452.0,628.1 451.6,624.8 C451.2,621.5 451.6,616.3 453.3,613.0 C455.0,609.7 458.3,606.4 461.6,604.8 C464.9,603.2 470.1,604.9 473.2,603.2 C476.3,601.6 478.1,597.0 480.0,594.9 C481.9,592.8 483.3,591.0 484.9,590.7 C486.5,590.4 489.0,592.6 489.8,593.0 L489.8,593 C490.0,590.8 490.3,583.5 491.0,580.0 C491.7,576.5 492.8,574.1 494.0,572.0 C495.2,569.9 496.2,568.4 498.0,567.5 C499.8,566.6 503.7,566.8 504.8,566.6 Z" fill="none" stroke="#3a3a3a" stroke-width="1.5" stroke-linejoin="round"/>
<path d="M498.0,600.0 C497.8,597.5 496.2,589.2 497.0,585.0 C497.8,580.8 500.7,576.2 503.0,575.0 C505.3,573.8 509.0,575.2 511.0,578.0 C513.0,580.8 514.5,586.7 515.0,592.0 C515.5,597.3 515.2,605.3 514.0,610.0 C512.8,614.7 510.3,619.2 508.0,620.0 C505.7,620.8 501.7,618.3 500.0,615.0 C498.3,611.7 498.3,602.5 498.0,600.0" fill="none" stroke="#999" stroke-width="0.7"/>
<line x1="483" y1="595" x2="483" y2="672" stroke="#aaa" stroke-width="0.7"/>
<polyline points="585,853.4 716.6,812.8" fill="none" stroke="#1e1e1e" stroke-width="5.4" stroke-linejoin="miter" stroke-miterlimit="6" stroke-linecap="round"/><polyline points="585,853.4 716.6,812.8" fill="none" stroke="#fff" stroke-width="2.7" stroke-linejoin="miter" stroke-miterlimit="6" stroke-linecap="round"/>
<polyline points="367,409 360,408.5 262.5,666 291,683 383.7,411 376.5,409.5" fill="none" stroke="#1e1e1e" stroke-width="5.4" stroke-linejoin="miter" stroke-miterlimit="6" stroke-linecap="round"/><polyline points="367,409 360,408.5 262.5,666 291,683 383.7,411 376.5,409.5" fill="none" stroke="#fff" stroke-width="2.7" stroke-linejoin="miter" stroke-miterlimit="6" stroke-linecap="round"/>
<polyline points="327.5,491 351,496" fill="none" stroke="#1e1e1e" stroke-width="5.4" stroke-linejoin="miter" stroke-miterlimit="6" stroke-linecap="round"/><polyline points="327.5,491 351,496" fill="none" stroke="#fff" stroke-width="2.7" stroke-linejoin="miter" stroke-miterlimit="6" stroke-linecap="round"/>
<polyline points="273.7,672 372,638" fill="none" stroke="#1e1e1e" stroke-width="5.4" stroke-linejoin="miter" stroke-miterlimit="6" stroke-linecap="round"/><polyline points="273.7,672 372,638" fill="none" stroke="#fff" stroke-width="2.7" stroke-linejoin="miter" stroke-miterlimit="6" stroke-linecap="round"/>
<polyline points="276,756 312.5,782" fill="none" stroke="#1e1e1e" stroke-width="5.4" stroke-linejoin="miter" stroke-miterlimit="6" stroke-linecap="round"/><polyline points="276,756 312.5,782" fill="none" stroke="#fff" stroke-width="2.7" stroke-linejoin="miter" stroke-miterlimit="6" stroke-linecap="round"/>
<polyline points="410,533 403.7,532 336,678 363.7,692 431,540.7 424,539" fill="none" stroke="#1e1e1e" stroke-width="5.4" stroke-linejoin="miter" stroke-miterlimit="6" stroke-linecap="round"/><polyline points="410,533 403.7,532 336,678 363.7,692 431,540.7 424,539" fill="none" stroke="#fff" stroke-width="2.7" stroke-linejoin="miter" stroke-miterlimit="6" stroke-linecap="round"/>
<polyline points="376,592 402.5,600.7" fill="none" stroke="#1e1e1e" stroke-width="5.4" stroke-linejoin="miter" stroke-miterlimit="6" stroke-linecap="round"/><polyline points="376,592 402.5,600.7" fill="none" stroke="#fff" stroke-width="2.7" stroke-linejoin="miter" stroke-miterlimit="6" stroke-linecap="round"/>
<polyline points="482.5,630 473,627 431.7,703 459.8,716 501.2,636.6 494,635" fill="none" stroke="#1e1e1e" stroke-width="5.4" stroke-linejoin="miter" stroke-miterlimit="6" stroke-linecap="round"/><polyline points="482.5,630 473,627 431.7,703 459.8,716 501.2,636.6 494,635" fill="none" stroke="#fff" stroke-width="2.7" stroke-linejoin="miter" stroke-miterlimit="6" stroke-linecap="round"/>
<polyline points="455,667.8 476,676.4" fill="none" stroke="#1e1e1e" stroke-width="5.4" stroke-linejoin="miter" stroke-miterlimit="6" stroke-linecap="round"/><polyline points="455,667.8 476,676.4" fill="none" stroke="#fff" stroke-width="2.7" stroke-linejoin="miter" stroke-miterlimit="6" stroke-linecap="round"/>
<polyline points="624,508 611.5,506 507,773.7 554,800 655,515 639.5,511.5" fill="none" stroke="#1e1e1e" stroke-width="5.4" stroke-linejoin="miter" stroke-miterlimit="6" stroke-linecap="round"/><polyline points="624,508 611.5,506 507,773.7 554,800 655,515 639.5,511.5" fill="none" stroke="#fff" stroke-width="2.7" stroke-linejoin="miter" stroke-miterlimit="6" stroke-linecap="round"/>
<polyline points="576,608 613.5,619.5" fill="none" stroke="#1e1e1e" stroke-width="5.4" stroke-linejoin="miter" stroke-miterlimit="6" stroke-linecap="round"/><polyline points="576,608 613.5,619.5" fill="none" stroke="#fff" stroke-width="2.7" stroke-linejoin="miter" stroke-miterlimit="6" stroke-linecap="round"/>
<polyline points="533.7,786 626,759.7" fill="none" stroke="#1e1e1e" stroke-width="5.4" stroke-linejoin="miter" stroke-miterlimit="6" stroke-linecap="round"/><polyline points="533.7,786 626,759.7" fill="none" stroke="#fff" stroke-width="2.7" stroke-linejoin="miter" stroke-miterlimit="6" stroke-linecap="round"/>
<polyline points="703,441 691,440 552.5,839.4 619.7,875.3 759,445 748,444" fill="none" stroke="#1e1e1e" stroke-width="5.4" stroke-linejoin="miter" stroke-miterlimit="6" stroke-linecap="round"/><polyline points="703,441 691,440 552.5,839.4 619.7,875.3 759,445 748,444" fill="none" stroke="#fff" stroke-width="2.7" stroke-linejoin="miter" stroke-miterlimit="6" stroke-linecap="round"/>
<polyline points="641,583 707,602" fill="none" stroke="#1e1e1e" stroke-width="5.4" stroke-linejoin="miter" stroke-miterlimit="6" stroke-linecap="round"/><polyline points="641,583 707,602" fill="none" stroke="#fff" stroke-width="2.7" stroke-linejoin="miter" stroke-miterlimit="6" stroke-linecap="round"/>
<polyline points="510,151 493,156 293.7,767" fill="none" stroke="#1e1e1e" stroke-width="6.2" stroke-linejoin="miter" stroke-miterlimit="6" stroke-linecap="round"/><polyline points="510,151 493,156 293.7,767" fill="none" stroke="#fff" stroke-width="3.2" stroke-linejoin="miter" stroke-miterlimit="6" stroke-linecap="round"/>
<polyline points="622,875.5 710,919" fill="none" stroke="#8a8a8a" stroke-width="1.8" stroke-dasharray="6.5,4.5"/>
<polyline points="786,853.5 827,870.5" fill="none" stroke="#8a8a8a" stroke-width="1.8" stroke-dasharray="6.5,4.5"/>
<polyline points="710,919 827,870.5" fill="none" stroke="#888" stroke-width="1.9"/>
<g transform="translate(623,759) rotate(28)"><rect x="-5" y="-4" width="10" height="8" fill="#eee" stroke="#222" stroke-width="1"/></g>
<g transform="translate(370,637) rotate(28)"><rect x="-4" y="-4" width="8" height="7" fill="#eee" stroke="#555" stroke-width="0.9"/></g>
<g transform="translate(711,807) rotate(28)"><rect x="-6" y="-5" width="12" height="9" fill="#eee" stroke="#222" stroke-width="1.1"/></g>
<polygon points="793.8,909.8 789,909.8 781.6,916.6 783.8,919.6 789,915.6" fill="#a02418"/>
<rect x="789" y="909.8" width="4.8" height="26.9" fill="#a02418"/>
</svg>
<div class="bar"></div>
<div class="t h">2-Dimensional Design</div>
<div class="t l2">lightweight for easy setup</div>
<div class="t l3">and stores flat</div>
<div class="dim">5in</div>
</body></html>
